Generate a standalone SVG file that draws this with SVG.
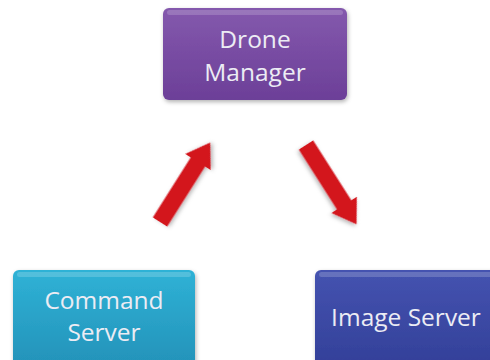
<svg xmlns="http://www.w3.org/2000/svg" width="490" height="360" viewBox="0 0 490 360">
  <defs>
    <linearGradient id="gPurple" x1="0" y1="0" x2="0" y2="1">
      <stop offset="0" stop-color="#8459ad"/>
      <stop offset="1" stop-color="#6c3f98"/>
    </linearGradient>
    <linearGradient id="gTeal" x1="0" y1="0" x2="0" y2="1">
      <stop offset="0" stop-color="#2fb2d6"/>
      <stop offset="1" stop-color="#2391b8"/>
    </linearGradient>
    <linearGradient id="gBlue" x1="0" y1="0" x2="0" y2="1">
      <stop offset="0" stop-color="#4553b0"/>
      <stop offset="1" stop-color="#323f98"/>
    </linearGradient>
    <filter id="shadow" x="-10%" y="-10%" width="125%" height="130%">
      <feDropShadow dx="1" dy="2" stdDeviation="2" flood-color="#000" flood-opacity="0.3"/>
    </filter>
  </defs>
  <style>
    .box { stroke: none; filter: url(#shadow); }
    .shine { fill: #ffffff; fill-opacity: 0.18; }
    .label { font-family: "Open Sans", "Noto Sans", sans-serif; font-size: 24.5px; fill: #ececf4; text-anchor: middle; }
    .arrow { fill: #d3141f; filter: url(#shadow); }
  </style>
  <rect width="490" height="360" fill="#ffffff"/>

  <g id="drone-manager">
    <rect class="box" x="163" y="8" width="184" height="92" rx="6" fill="url(#gPurple)"/>
    <rect class="shine" x="167" y="10" width="176" height="5" rx="2.5"/>
    <text class="label" x="255" y="48">Drone</text>
    <text class="label" x="255" y="81">Manager</text>
  </g>

  <g id="command-server">
    <rect class="box" x="13" y="270" width="182" height="100" rx="6" fill="url(#gTeal)"/>
    <rect class="shine" x="17" y="272" width="174" height="5" rx="2.5"/>
    <text class="label" x="104" y="309">Command</text>
    <text class="label" x="104" y="341">Server</text>
  </g>

  <g id="image-server">
    <rect class="box" x="315" y="270" width="190" height="100" rx="6" fill="url(#gBlue)"/>
    <rect class="shine" x="319" y="272" width="182" height="5" rx="2.5"/>
    <text class="label" x="406" y="326">Image Server</text>
  </g>

  <g id="connectors">
    <polygon class="arrow" transform="translate(160,222) rotate(-57.7)" points="0,-8.5 71,-8.5 71,-15 94,0 71,15 71,8.5 0,8.5"/>
    <polygon class="arrow" transform="translate(306,145) rotate(57.5)" points="0,-8.5 71,-8.5 71,-15 94,0 71,15 71,8.5 0,8.5"/>
  </g>
</svg>
